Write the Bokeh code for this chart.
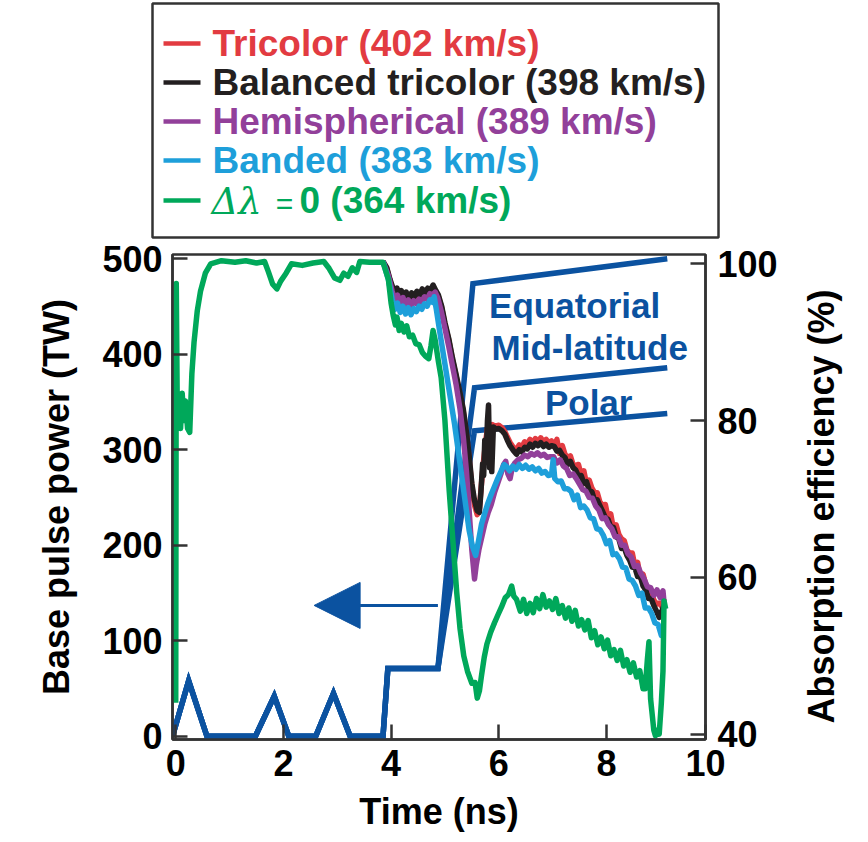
from bokeh.plotting import figure
from bokeh.models import Range1d, LinearAxis, FixedTicker, Arrow, NormalHead
from bokeh.layouts import column, row
from bokeh.core.properties import value
from bokeh.embed import file_html
from bokeh.resources import INLINE

# ---------------- data ----------------
# laser pulse (left axis, TW), shared foot then three beam groups
pulse_t_foot = [-0.06, 0.24, 0.58, 1.48, 1.83, 2.10, 2.60, 2.93, 3.24, 3.85, 3.94, 4.87]
pulse_p_foot = [0, 58, 0, 0, 42, 0, 0, 45, 0, 0, 71, 71]
beam_names = ["Equatorial", "Mid-latitude", "Polar"]
beam_t_end = [[5.52, 9.13], [5.55, 9.13], [5.55, 9.13]]
beam_p_end = [[474, 500], [365, 386], [320, 338]]
beam_label_t = [7.41, 7.69, 7.67]
beam_label_p = [451, 407, 350]
arrow_t = [4.87, 2.57]
arrow_p = 137

# absorption efficiency (right axis, %)
red_t = [3.85, 3.92, 3.98, 4.03, 4.07, 4.11, 4.15, 4.19, 4.23, 4.28, 4.33, 4.38, 4.43, 4.48, 4.53, 4.58, 4.63, 4.68,
         4.73, 4.78, 4.83, 4.88, 4.94, 5.00, 5.07, 5.14, 5.21, 5.28, 5.34, 5.40, 5.45, 5.50, 5.55, 5.60, 5.64, 5.68,
         5.72, 5.76, 5.80, 5.84, 5.88, 5.93, 6.00, 6.06, 6.11, 6.16, 6.21, 6.27, 6.33, 6.38, 6.43, 6.48, 6.53, 6.58,
         6.63, 6.68, 6.73, 6.78, 6.83, 6.88, 6.93, 6.98, 7.03, 7.08, 7.13, 7.18, 7.23, 7.28, 7.33, 7.38, 7.43, 7.48,
         7.53, 7.58, 7.63, 7.68, 7.73, 7.78, 7.83, 7.88, 7.93, 7.98, 8.03, 8.08, 8.13, 8.18, 8.23, 8.28, 8.33, 8.38,
         8.43, 8.48, 8.53, 8.58, 8.63, 8.68, 8.73, 8.78, 8.83, 8.88, 8.93, 8.98, 9.03, 9.07]
red_v = [100.3, 99.4, 97.8, 96.8, 96.0, 96.7, 95.6, 96.4, 95.4, 96.2, 95.3, 96.1, 95.6, 96.3, 95.8, 96.6, 96.0, 96.7,
         96.4, 97.1, 96.4, 95.8, 94.4, 92.3, 90.3, 87.8, 85.6, 83.3, 81.2, 78.2, 75.2, 71.6, 69.2, 68.0, 68.8, 72.0,
         75.0, 77.5, 79.5, 78.6, 79.5, 79.3, 79.4, 79.1, 78.6, 77.9, 77.2, 76.6, 76.3, 76.9, 76.6, 77.3, 77.0, 77.6,
         77.2, 77.7, 77.3, 77.8, 77.3, 77.6, 77.2, 77.4, 76.7, 77.6, 75.8, 76.8, 75.7, 75.3, 75.5, 74.4, 74.3, 74.4,
         73.1, 73.6, 71.9, 72.4, 71.4, 70.8, 70.8, 69.6, 69.2, 69.3, 67.6, 68.1, 66.2, 66.7, 65.5, 64.9, 64.7, 63.5,
         63.1, 63.1, 61.4, 61.9, 60.0, 60.4, 59.1, 58.6, 58.3, 57.1, 56.6, 56.7, 56.3, 57.3]

black_t = [3.85, 3.92, 3.98, 4.03, 4.07, 4.11, 4.15, 4.19, 4.23, 4.28, 4.33, 4.38, 4.43, 4.48, 4.53, 4.58, 4.63, 4.68,
           4.73, 4.78, 4.83, 4.88, 4.94, 5.00, 5.07, 5.14, 5.21, 5.28, 5.34, 5.40, 5.45, 5.50, 5.55, 5.60, 5.64, 5.67,
           5.70, 5.72, 5.74, 5.77, 5.79, 5.81, 5.83, 5.85, 5.87, 5.90, 5.95, 6.00, 6.06, 6.11, 6.16, 6.21, 6.27, 6.33,
           6.38, 6.43, 6.48, 6.53, 6.58, 6.63, 6.68, 6.73, 6.78, 6.83, 6.88, 6.93, 6.98, 7.03, 7.08, 7.13, 7.18, 7.23,
           7.28, 7.33, 7.38, 7.43, 7.48, 7.53, 7.58, 7.63, 7.68, 7.73, 7.78, 7.83, 7.88, 7.93, 7.98, 8.03, 8.08, 8.13,
           8.18, 8.23, 8.28, 8.33, 8.38, 8.43, 8.48, 8.53, 8.58, 8.63, 8.68, 8.73, 8.78, 8.83, 8.88, 8.93, 8.98, 9.03,
           9.07]
black_v = [100.3, 99.5, 98.0, 97.0, 96.2, 96.9, 95.8, 96.6, 95.6, 96.4, 95.5, 96.3, 95.8, 96.5, 96.0, 96.8, 96.2, 96.9,
           96.6, 97.3, 96.6, 96.0, 94.6, 92.5, 90.5, 88.0, 85.8, 83.5, 81.5, 78.5, 75.5, 72.0, 69.8, 68.5, 68.3, 71.0,
           74.5, 73.0, 77.5, 76.0, 80.0, 82.0, 74.0, 79.0, 73.5, 79.2, 78.9, 79.0, 78.7, 78.3, 77.5, 76.8, 76.2, 75.7,
           76.3, 76.0, 76.6, 76.4, 77.0, 76.6, 77.1, 76.8, 77.2, 76.7, 77.0, 76.6, 76.8, 76.7, 76.1, 76.2, 75.6, 75.3,
           74.4, 74.8, 74.0, 73.7, 72.9, 73.0, 72.0, 72.2, 71.1, 70.9, 69.8, 69.9, 69.1, 68.4, 67.6, 67.4, 66.4, 66.4,
           65.2, 64.9, 63.7, 63.8, 62.8, 62.2, 61.3, 61.2, 60.1, 60.1, 58.9, 58.4, 57.3, 57.3, 56.4, 55.7, 54.9, 55.7,
           56.5]

purple_t = [3.85, 3.95, 4.02, 4.07, 4.12, 4.17, 4.22, 4.27, 4.32, 4.37, 4.42, 4.47, 4.52, 4.57, 4.62, 4.67, 4.72, 4.77,
            4.82, 4.87, 4.93, 5.00, 5.07, 5.14, 5.21, 5.28, 5.34, 5.40, 5.45, 5.50, 5.55, 5.58, 5.63, 5.68, 5.74, 5.80,
            5.86, 5.92, 5.98, 6.04, 6.09, 6.13, 6.17, 6.21, 6.25, 6.30, 6.36, 6.42, 6.48, 6.54, 6.60, 6.66, 6.72, 6.78,
            6.84, 6.90, 6.96, 7.02, 7.08, 7.14, 7.20, 7.26, 7.32, 7.38, 7.44, 7.50, 7.56, 7.62, 7.68, 7.74, 7.80, 7.86,
            7.92, 7.98, 8.04, 8.10, 8.16, 8.22, 8.28, 8.34, 8.40, 8.46, 8.52, 8.58, 8.64, 8.70, 8.76, 8.82, 8.88, 8.94,
            9.00, 9.05, 9.08]
purple_v = [100.3, 98.5, 96.5, 95.4, 96.0, 95.0, 95.7, 94.8, 95.4, 94.6, 95.3, 94.9, 95.5, 95.1, 95.8, 95.5, 96.2, 96.0,
            96.4, 95.6, 94.0, 91.8, 89.5, 87.0, 84.5, 81.5, 78.0, 73.5, 68.5, 63.5, 59.8, 61.5, 63.5, 65.0, 66.8, 68.2,
            69.3, 70.8, 72.0, 73.2, 74.4, 74.8, 73.2, 72.6, 74.0, 74.6, 75.0, 75.2, 75.6, 75.4, 75.8, 75.6, 75.9, 75.5,
            75.7, 75.3, 75.4, 75.4, 74.6, 75.0, 74.2, 73.9, 73.0, 73.2, 72.6, 71.9, 71.2, 71.0, 70.2, 70.1, 69.1, 68.6,
            67.5, 67.6, 66.7, 66.2, 65.2, 65.2, 64.1, 64.1, 63.0, 62.6, 61.4, 61.5, 60.5, 59.8, 58.8, 58.7, 57.7, 58.4,
            57.4, 58.3, 56.0]

cyan_t = [3.85, 3.95, 4.02, 4.07, 4.12, 4.17, 4.22, 4.27, 4.32, 4.37, 4.42, 4.47, 4.52, 4.57, 4.62, 4.67, 4.72, 4.77,
          4.80, 4.84, 4.90, 4.97, 5.04, 5.11, 5.18, 5.25, 5.32, 5.39, 5.45, 5.51, 5.57, 5.62, 5.68, 5.74, 5.80, 5.86,
          5.92, 5.98, 6.04, 6.10, 6.15, 6.20, 6.26, 6.32, 6.38, 6.44, 6.50, 6.56, 6.62, 6.68, 6.74, 6.80, 6.86, 6.92,
          6.98, 7.01, 7.04, 7.10, 7.16, 7.22, 7.28, 7.34, 7.40, 7.46, 7.52, 7.58, 7.64, 7.70, 7.76, 7.82, 7.88, 7.94,
          8.00, 8.06, 8.12, 8.18, 8.24, 8.30, 8.36, 8.42, 8.48, 8.54, 8.60, 8.66, 8.72, 8.78, 8.84, 8.90, 8.96, 9.02,
          9.06]
cyan_v = [100.3, 98.0, 95.5, 94.2, 95.0, 93.8, 94.6, 93.6, 94.4, 93.5, 94.3, 93.9, 94.6, 94.2, 94.9, 94.6, 95.4, 95.1,
          95.8, 94.2, 91.5, 88.5, 85.5, 82.5, 79.5, 76.0, 72.5, 69.0, 66.0, 64.0, 62.8, 64.5, 66.8, 68.2, 69.5, 70.6,
          71.6, 72.6, 73.5, 74.4, 74.1, 73.6, 74.2, 73.8, 74.4, 73.9, 74.3, 73.8, 74.1, 73.6, 73.9, 73.3, 73.5, 73.0,
          73.1, 75.0, 72.6, 72.2, 72.3, 71.3, 71.3, 71.0, 69.9, 70.5, 68.9, 69.1, 68.6, 67.6, 67.5, 66.2, 66.1, 65.4,
          64.3, 64.7, 62.9, 63.0, 62.4, 61.3, 61.2, 59.8, 59.6, 58.9, 57.7, 58.0, 56.1, 56.1, 55.4, 54.2, 54.0, 52.6,
          52.8]

green_t = [0.00, 0.01, 0.03, 0.06, 0.09, 0.12, 0.15, 0.18, 0.22, 0.26, 0.30, 0.34, 0.40, 0.46, 0.55, 0.65, 0.85, 1.10,
           1.30, 1.50, 1.65, 1.72, 1.80, 1.88, 1.95, 2.05, 2.15, 2.35, 2.55, 2.75, 2.85, 2.95, 3.05, 3.12, 3.20, 3.28,
           3.36, 3.42, 3.60, 3.85, 3.95, 4.00, 4.04, 4.08, 4.11, 4.15, 4.19, 4.24, 4.29, 4.34, 4.40, 4.46, 4.52, 4.58,
           4.64, 4.70, 4.74, 4.78, 4.82, 4.88, 4.93, 5.00, 5.08, 5.15, 5.22, 5.28, 5.35, 5.42, 5.50, 5.56, 5.60, 5.64,
           5.68, 5.73, 5.78, 5.85, 5.92, 5.99, 6.05, 6.12, 6.18, 6.24, 6.28, 6.33, 6.40, 6.46, 6.52, 6.58, 6.64, 6.70,
           6.76, 6.82, 6.88, 6.94, 7.00, 7.06, 7.12, 7.18, 7.24, 7.30, 7.36, 7.42, 7.48, 7.54, 7.60, 7.66, 7.72, 7.78,
           7.84, 7.90, 7.96, 8.02, 8.08, 8.14, 8.20, 8.26, 8.32, 8.38, 8.44, 8.50, 8.56, 8.62, 8.68, 8.72, 8.76, 8.79,
           8.82, 8.85, 8.88, 8.91, 8.94, 8.98, 9.02, 9.05, 9.07, 9.10]
green_v = [44.0, 97.5, 80.0, 83.0, 79.0, 83.5, 80.0, 82.5, 79.0, 78.5, 86.0, 90.0, 94.0, 96.5, 98.8, 100.0, 100.4, 100.2,
           100.4, 100.1, 100.3, 99.0, 97.4, 96.8, 97.8, 98.8, 100.0, 99.8, 100.1, 100.3, 99.4, 98.2, 97.9, 98.8, 98.4,
           99.5, 98.9, 100.3, 100.2, 100.2, 98.0, 95.0, 93.4, 92.2, 93.2, 91.5, 92.4, 91.3, 92.1, 90.7, 90.9, 89.8, 89.7,
           88.7, 88.2, 87.9, 89.5, 91.5, 90.2, 87.5, 85.5, 80.0, 71.0, 64.5, 58.0, 53.5, 50.0, 48.0, 46.5, 46.6, 44.6,
           45.5, 47.5, 49.8, 51.5, 53.0, 54.2, 55.3, 56.2, 57.4, 57.8, 58.9, 57.6, 57.2, 55.7, 57.2, 55.4, 56.7, 55.5,
           57.3, 56.0, 57.8, 56.2, 57.0, 55.9, 57.3, 55.4, 56.4, 54.8, 56.1, 54.4, 55.8, 53.8, 54.6, 53.3, 54.5, 52.3,
           53.2, 51.4, 52.4, 50.9, 52.0, 50.0, 50.8, 49.4, 50.7, 48.7, 49.5, 47.9, 49.1, 47.3, 48.1, 45.8, 45.8, 49.5,
           51.8, 44.5, 42.5, 40.5, 39.8, 40.5, 40.0, 44.0, 48.0, 57.0, 56.0]

series_labels = ["Tricolor (402 km/s)", "Balanced tricolor (398 km/s)", "Hemispherical (389 km/s)",
                 "Banded (383 km/s)", "\u0394\u03bb = 0 (364 km/s)"]
series_colors = ["#e23b41", "#231f20", "#92409a", "#1e9fda", "#00a85a"]
pulse_color = "#0b52a0"

x_ticks = [0, 2, 4, 6, 8, 9.84]
x_tick_labels = {9.84: "10"}
left_ticks = [0, 100, 200, 300, 400, 500]
right_ticks = [40, 60, 80, 100]
right_title = "Absorption efficiency (%)"

FONT = "Liberation Sans"
FS = "36px"
LFS = "37px"
EDGE = "#333333"

W, H = 868, 842
LH = 240            # legend strip height
PW = 790            # main plot width (rest holds the right-hand title)
MT, MB = 254 - LH, 103

# ---------------- legend figure (pixel coordinates of its own canvas) ----------------
lg = figure(width=W, height=LH, x_range=Range1d(0, W), y_range=Range1d(LH, 0),
            output_backend="svg", toolbar_location=None, min_border=0)
lg.axis.visible = False
lg.grid.visible = False
lg.outline_line_color = None
lg.quad(left=[152], right=[718], top=[3], bottom=[237], fill_color=None, line_color=EDGE, line_width=2.5)
row_y = [43, 82, 121, 160, 200]
lg.segment(x0=[163] * 5, x1=[200] * 5, y0=row_y, y1=row_y, line_color=series_colors, line_width=4.5)
for lab, col, yy in zip(series_labels[:4], series_colors[:4], row_y[:4]):
    lg.text(x=[212], y=[yy], text=[lab], text_color=col, text_font=value(FONT), text_font_style="bold",
            text_font_size=LFS, text_baseline="middle", text_align="left")
sym, rest = series_labels[4].split(" = ")
lg.text(x=[211], y=[row_y[4] + 1], text=[sym], text_color=series_colors[4], text_font=value("DejaVu Serif"),
        text_font_style="italic", text_font_size=LFS, text_baseline="middle", text_align="left")
lg.text(x=[284], y=[row_y[4] + 3], text=["="], text_color=series_colors[4], text_font=value(FONT),
        text_font_size="30px", text_baseline="middle", text_align="center")
lg.text(x=[299], y=[row_y[4]], text=[rest], text_color=series_colors[4], text_font=value(FONT),
        text_font_style="bold", text_font_size=LFS, text_baseline="middle", text_align="left")

# ---------------- main figure ----------------
p = figure(width=PW, height=H - LH, x_range=Range1d(-0.06, 9.84), y_range=Range1d(-3.4, 504.5),
           output_backend="svg", toolbar_location=None,
           min_border_left=172, min_border_right=PW - 705, min_border_top=MT, min_border_bottom=MB)
p.extra_y_ranges = {"abs": Range1d(39.32, 101.19)}
p.grid.visible = False
p.outline_line_color = EDGE
p.outline_line_width = 2.5

p.xaxis.ticker = FixedTicker(ticks=x_ticks)
p.xaxis.major_label_overrides = x_tick_labels
p.yaxis.ticker = FixedTicker(ticks=left_ticks)
p.xaxis.axis_label = "Time (ns)"
p.yaxis.axis_label = "Base pulse power (TW)"

ra = LinearAxis(y_range_name="abs", ticker=FixedTicker(ticks=right_ticks))
p.add_layout(ra, "right")

for ax in [p.xaxis[0], p.yaxis[0], ra]:
    ax.axis_line_color = EDGE
    ax.axis_line_width = 2.5
    ax.major_tick_line_color = EDGE
    ax.major_tick_line_width = 2.5
    ax.major_tick_in = 15
    ax.major_tick_out = 0
    ax.minor_tick_line_color = None
    ax.major_label_text_font = FONT
    ax.major_label_text_font_style = "bold"
    ax.major_label_text_font_size = FS
    ax.major_label_text_color = "black"
    ax.axis_label_text_font = FONT
    ax.axis_label_text_font_style = "bold"
    ax.axis_label_text_font_size = FS
    ax.axis_label_text_color = "black"
p.xaxis.major_label_standoff = 10
p.xaxis.axis_label_standoff = 12
p.yaxis.major_label_standoff = 10
p.yaxis.axis_label_standoff = 22
ra.major_label_standoff = 12

# pulse shapes
for bt, bp in zip(beam_t_end, beam_p_end):
    p.line(pulse_t_foot + bt, pulse_p_foot + bp, line_color=pulse_color, line_width=5.5, line_join="miter")
p.add_layout(Arrow(end=NormalHead(size=46, fill_color=pulse_color, line_color=pulse_color),
                   x_start=arrow_t[0], y_start=arrow_p, x_end=arrow_t[1], y_end=arrow_p,
                   line_color=pulse_color, line_width=3))
p.text(x=beam_label_t, y=beam_label_p, text=beam_names, text_color=pulse_color, text_font=value(FONT),
       text_font_style="bold", text_font_size="35px", text_align="center", text_baseline="middle")

# absorption curves
for tt, vv, col in zip([red_t, black_t, purple_t, cyan_t, green_t],
                       [red_v, black_v, purple_v, cyan_v, green_v], series_colors):
    p.line(tt, vv, y_range_name="abs", line_color=col, line_width=5.5, line_join="round")

# ---------------- right-hand axis title strip (reads bottom to top) ----------------
rt = figure(width=W - PW, height=H - LH, x_range=Range1d(PW, W), y_range=Range1d(H - MB, 254),
            output_backend="svg", toolbar_location=None,
            min_border_left=0, min_border_right=0, min_border_top=MT, min_border_bottom=MB)
rt.axis.visible = False
rt.grid.visible = False
rt.outline_line_color = None
rt.text(x=[821], y=[506], text=[right_title], angle=90, angle_units="deg", text_color="black",
        text_font=value(FONT), text_font_style="bold", text_font_size=FS,
        text_align="center", text_baseline="middle")

layout = column(column(lg), row(p, column(rt), spacing=0), spacing=0)
open("out.html", "w").write(file_html(layout, INLINE))
